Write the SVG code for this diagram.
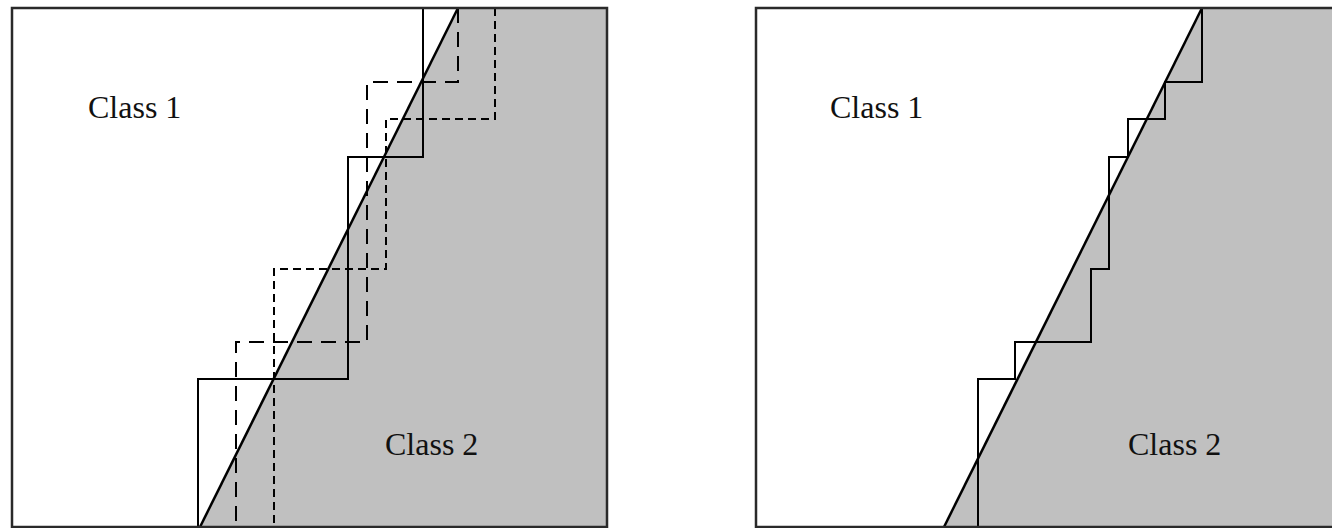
<svg xmlns="http://www.w3.org/2000/svg" width="1332" height="528" viewBox="0 0 1332 528">
<style>
.frame{fill:none;stroke:#2a2a2a;stroke-width:2.5}
.region{fill:#c0c0c0;stroke:none}
.stair{fill:none;stroke:#000;stroke-width:2}
.dashS{fill:none;stroke:#000;stroke-width:2;stroke-dasharray:8,5}
.dashL{fill:none;stroke:#000;stroke-width:2;stroke-dasharray:15,9}
.boundary{fill:none;stroke:#000;stroke-width:2.5}
.label{font-family:"Liberation Serif","Times New Roman",serif;font-size:32px;fill:#111}
</style>
<rect width="1332" height="528" fill="#fff"/>
<g id="left-panel">
  <polygon class="region" points="458,8 607,8 607,527 200,527"/>
  <polyline class="dashS" points="495,8 495,119 386,119 386,269 274,269 274,527"/>
  <polyline class="dashL" points="458,8 458,82 367,82 367,342 236,342 236,527"/>
  <polyline class="stair" points="423,8 423,157 348,157 348,379 198,379 198,527"/>
  <line class="boundary" x1="458" y1="8" x2="200" y2="527"/>
  <rect class="frame" x="12" y="8" width="595" height="519"/>
  <text class="label" x="88" y="118">Class 1</text>
  <text class="label" x="385" y="455">Class 2</text>
</g>
<g id="right-panel">
  <polygon class="region" points="1202,8 1340,8 1340,527 944,527"/>
  <polyline class="stair" points="1202,8 1202,82 1165,82 1165,119 1128,119 1128,157 1109,157 1109,269 1091,269 1091,342 1015,342 1015,379 978,379 978,527"/>
  <line class="boundary" x1="1202" y1="8" x2="944" y2="527"/>
  <rect class="frame" x="756" y="8" width="590" height="519"/>
  <text class="label" x="830" y="118">Class 1</text>
  <text class="label" x="1128" y="455">Class 2</text>
</g>
<g id="connectors"></g>
</svg>
